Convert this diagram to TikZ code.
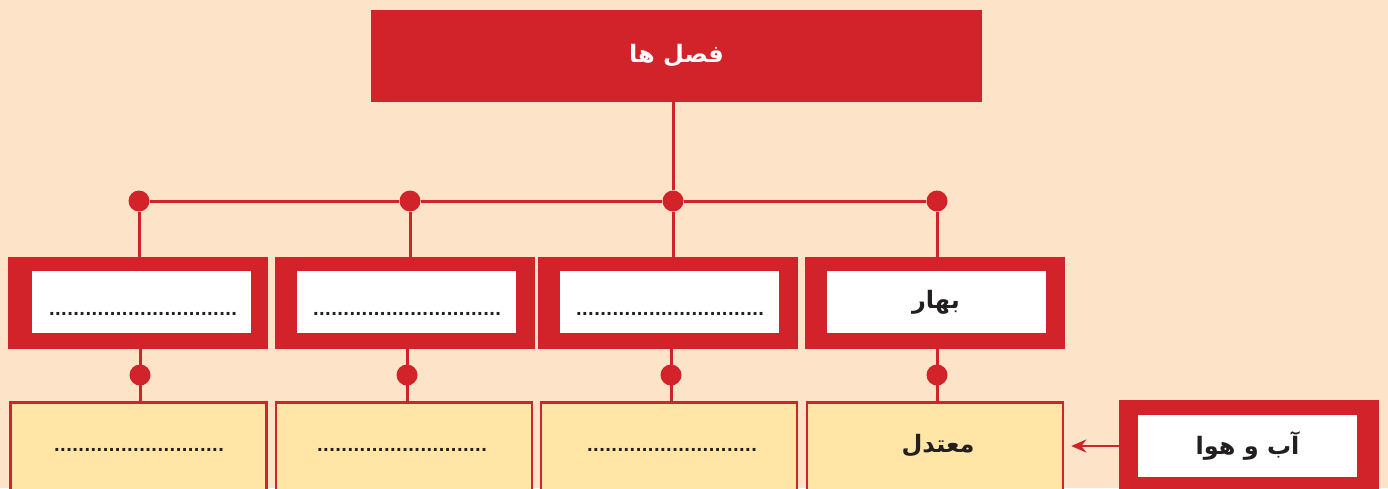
\documentclass[tikz,border=0pt]{standalone}
\usepackage{fontspec}
\newfontfamily\arabicfont[Script=Arabic]{DejaVu Sans}
\TeXXeTstate=1
\usetikzlibrary{
arrows.meta,
positioning
}
\definecolor{bgpeach}{HTML}{FDE3C8}
\definecolor{seasonred}{HTML}{D2232A}
\definecolor{cellyellow}{HTML}{FFE6A6}
\definecolor{inkblack}{HTML}{231F20}
\tikzset{
  headbox/.style={fill=seasonred, minimum width=611pt, minimum height=92pt, inner sep=0pt,
    text=white, font=\arabicfont\bfseries\fontsize{24}{28}\selectfont},
  frame/.style={fill=seasonred, minimum width=260pt, minimum height=92pt, inner sep=0pt},
  slot/.style={fill=white, minimum width=219pt, minimum height=62pt, inner sep=0pt,
    text=inkblack, font=\arabicfont\bfseries\fontsize{24}{28}\selectfont},
  cell/.style={fill=cellyellow, draw=seasonred, line width=2.5pt, minimum width=256pt,
    minimum height=100pt, inner sep=0pt, anchor=north},
  celltext/.style={text=inkblack, inner sep=0pt, font=\arabicfont\bfseries\fontsize{24}{28}\selectfont},
  blanks/.style={text=inkblack, inner sep=0pt, font=\arabicfont\bfseries\fontsize{16}{18}\selectfont},
  link/.style={seasonred, line width=3pt},
  joint/.style={circle, fill=seasonred, minimum size=21pt, inner sep=0pt}
}
\begin{document}
\begin{tikzpicture}[x=1pt,y=-1pt]
    \fill[bgpeach] (0,0) rectangle (1388,488);
    \useasboundingbox (0,0) rectangle (1388,488);

    % top
    \node[headbox] (root) at (676.5,56) {\beginR فصل ها\endR};

    % joints on the bar
    \node[joint] (J1) at (139,201) {};
    \node[joint] (J2) at (410,201) {};
    \node[joint] (J3) at (673,201) {};
    \node[joint] (J4) at (937,201) {};
    \draw[link] (J3 |- root.south) -- (J3);
    \draw[link] (J1) -- (J2) -- (J3) -- (J4);

    % seasons
    \node[frame] (F1) at (138,303) {};
    \node[frame] (F2) at (404.5,303) {};
    \node[frame] (F3) at (668,303) {};
    \node[frame] (F4) at (935,303) {};
    \node[slot] (S1) at (141.5,302) {};
    \node[slot] (S2) at (406,302) {};
    \node[slot] (S3) at (669,302) {};
    \node[slot] (S4) at (936,302) {\beginR بهار\endR};
    \node[blanks] (S1d) at (143,314) {...............................};
    \node[blanks] (S2d) at (407,314) {...............................};
    \node[blanks] (S3d) at (670,314) {...............................};
    \foreach \i in {1,...,4}
      \draw[link] (J\i) -- (J\i |- F\i.north);

    % weather
    \node[cell] (C1) at (138.5,401) {};
    \node[cell] (C2) at (404,401) {};
    \node[cell] (C3) at (669,401) {};
    \node[cell] (C4) at (935,401) {};
    \node[blanks] (C1d) at (139,450) {............................};
    \node[blanks] (C2d) at (402,450) {............................};
    \node[blanks] (C3d) at (672,450) {............................};
    \node[celltext] (C4t) at (938,446) {\beginR معتدل\endR};

    \node[joint] (K1) at (140,375) {};
    \node[joint] (K2) at (407,375) {};
    \node[joint] (K3) at (671,375) {};
    \node[joint] (K4) at (937,375) {};
    \foreach \i in {1,...,4}
      \draw[link] (K\i |- F\i.south) -- (K\i |- C\i.north);

    % label on the right
    \node[frame, anchor=north west] (Q) at (1119,400) {};
    \node[slot] (Qs) at (1247.5,446) {\beginR آب و هوا\endR};
    \draw[link,line width=2.5pt,-{Stealth[length=15pt,width=13pt]},shorten >=7pt] (Q.west |- Qs) -- (C4.east |- Qs);
\end{tikzpicture}
\end{document}
